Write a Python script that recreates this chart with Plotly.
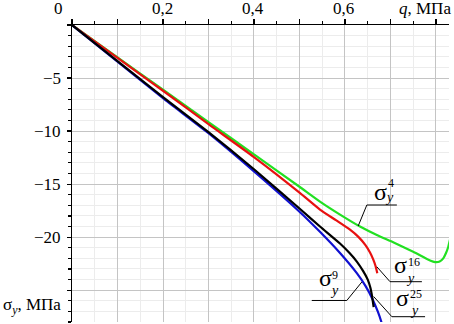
import plotly.graph_objects as go

# ---- data ----
q_s4 = [0, 0.1, 0.2, 0.3, 0.4, 0.5, 0.545, 0.59, 0.633, 0.67, 0.707, 0.751, 0.787, 0.798, 0.808, 0.816, 0.822, 0.827, 0.831]
s_s4 = [0, -3.05, -6.1, -9.15, -12.2, -15.25, -16.65, -17.9, -19.0, -19.8, -20.5, -21.4, -22.2, -22.35, -22.3, -22.0, -21.5, -20.9, -20.2]

q_s16 = [0, 0.1, 0.2, 0.3, 0.4, 0.5, 0.545, 0.58, 0.611, 0.63, 0.645, 0.655, 0.662, 0.667, 0.671]
s_s16 = [0, -3.1, -6.2, -9.35, -12.45, -15.8, -17.4, -18.4, -19.3, -20.0, -20.75, -21.45, -22.1, -22.7, -23.4]

q_s25 = [0, 0.1, 0.2, 0.3, 0.4, 0.5, 0.545, 0.589, 0.61, 0.626, 0.64, 0.65, 0.656, 0.66, 0.663]
s_s25 = [0, -3.4, -6.8, -10.1, -13.6, -17.3, -19.0, -20.6, -21.5, -22.3, -23.2, -24.0, -24.8, -25.7, -26.6]

q_s9 = [0, 0.1, 0.2, 0.3, 0.4, 0.5, 0.545, 0.589, 0.626, 0.645, 0.66, 0.672, 0.68, 0.686]
s_s9 = [0, -3.45, -6.9, -10.2, -13.8, -17.6, -19.5, -21.5, -23.4, -24.6, -25.8, -27.0, -28.0, -29.0]

x_tick_vals = [0, 0.2, 0.4, 0.6]
x_tick_text = ["0", "0,2", "0,4", "0,6"]
y_tick_vals = [-5, -10, -15, -20]
y_tick_text = ["\u22125", "\u221210", "\u221215", "\u221220"]

# curve labels: sigma / superscript / subscript positions and leader lines (data units)
labels = [
    dict(sup="4",  sig=(0.678, -15.75), supp=(0.690, -14.9), subp=(0.684, -16.3),
         hl=(0.648, 0.714, -16.97), d0=(0.648, -16.97), d1=(0.629, -18.95)),
    dict(sup="16", sig=(0.723, -22.65), supp=(0.733, -22.3), subp=(0.730, -23.9),
         hl=(0.699, 0.769, -24.2), d0=(0.699, -24.2), d1=(0.670, -22.79)),
    dict(sup="25", sig=(0.726, -25.75), supp=(0.738, -25.4), subp=(0.738, -26.9),
         hl=(0.703, 0.776, -27.5), d0=(0.703, -27.5), d1=(0.663, -25.6)),
    dict(sup="9",  sig=(0.558, -23.85), supp=(0.568, -23.6), subp=(0.563, -25.0),
         hl=(0.527, 0.604, -25.97), d0=(0.604, -25.97), d1=(0.637, -24.23)),
]

FONT = "Liberation Serif"

fig = go.Figure()
for q, s, c in [(q_s4, s_s4, "#22e022"), (q_s16, s_s16, "#e81010"),
                (q_s9, s_s9, "#1010d0"), (q_s25, s_s25, "#000000")]:
    fig.add_trace(go.Scatter(x=q, y=s, mode="lines",
                             line=dict(color=c, width=2.2, shape="spline", smoothing=0.5),
                             hoverinfo="skip", showlegend=False))

shapes = []
ann = []
for L in labels:
    qa, qb, sh = L["hl"]
    shapes.append(dict(type="line", xref="x", yref="y", x0=qa, x1=qb, y0=sh, y1=sh,
                       line=dict(color="black", width=1)))
    shapes.append(dict(type="line", xref="x", yref="y", x0=L["d0"][0], y0=L["d0"][1],
                       x1=L["d1"][0], y1=L["d1"][1], line=dict(color="black", width=1)))
    ann.append(dict(x=L["sig"][0], y=L["sig"][1], xref="x", yref="y", text="σ", showarrow=False,
                    font=dict(family=FONT, size=24, color="black"), xanchor="center", yanchor="middle"))
    ann.append(dict(x=L["supp"][0], y=L["supp"][1], xref="x", yref="y", text=L["sup"], showarrow=False,
                    font=dict(family=FONT, size=12, color="black"), xanchor="left", yanchor="middle"))
    ann.append(dict(x=L["subp"][0], y=L["subp"][1], xref="x", yref="y", text="<i>y</i>", showarrow=False,
                    font=dict(family=FONT, size=14, color="black"), xanchor="left", yanchor="middle"))

for v, t in zip(x_tick_vals, x_tick_text):
    ann.append(dict(x=v, y=1, xref="x", yref="paper", text=t, showarrow=False,
                    xanchor="center", yanchor="middle", yshift=17, xshift=(-14 if v == 0 else -1),
                    font=dict(family=FONT, size=17, color="black")))
for v, t in zip(y_tick_vals, y_tick_text):
    ann.append(dict(x=0, y=v, xref="x", yref="y", text=t, showarrow=False,
                    xanchor="right", yanchor="middle", xshift=-9,
                    font=dict(family=FONT, size=17, color="black")))
ann.append(dict(x=1, y=1, xref="paper", yref="paper", text="<i>q</i>, МПа", showarrow=False,
                xanchor="right", yanchor="middle", yshift=17, xshift=4,
                font=dict(family=FONT, size=17, color="black")))
ann.append(dict(x=0, y=-26.5, xref="x", yref="y", text="σ<sub><i>y</i></sub>, МПа", showarrow=False,
                xanchor="right", yanchor="middle", xshift=-9,
                font=dict(family=FONT, size=17, color="black")))

fig.update_layout(
    width=454, height=324,
    margin=dict(l=72, r=5, t=25, b=2),
    paper_bgcolor="white", plot_bgcolor="white",
    font=dict(family=FONT),
    shapes=shapes, annotations=ann,
    xaxis=dict(range=[0, 0.8286], side="top", dtick=0.1, tick0=0, showticklabels=False,
               showgrid=True, gridcolor="#c4c4c4", gridwidth=1,
               showline=True, linecolor="black", linewidth=1.5,
               ticks="outside", ticklen=5, tickcolor="black", tickwidth=1.2,
               zeroline=False,
               minor=dict(dtick=0.05, showgrid=True, gridcolor="#ececec", ticks="outside",
                          ticklen=3, tickcolor="black")),
    yaxis=dict(range=[-28.0, 0], dtick=5, tick0=0, showticklabels=False,
               showgrid=True, gridcolor="#c4c4c4", gridwidth=1,
               showline=True, linecolor="black", linewidth=1.5,
               ticks="outside", ticklen=4, tickcolor="black", tickwidth=1.2,
               zeroline=False,
               minor=dict(dtick=1, showgrid=True, gridcolor="#ececec", ticks="outside",
                          ticklen=3, tickcolor="black")),
)

fig.write_html("out.html", config={"displayModeBar": False, "staticPlot": True},
               post_script="document.body.style.margin='0px';document.body.style.overflow='hidden';")
